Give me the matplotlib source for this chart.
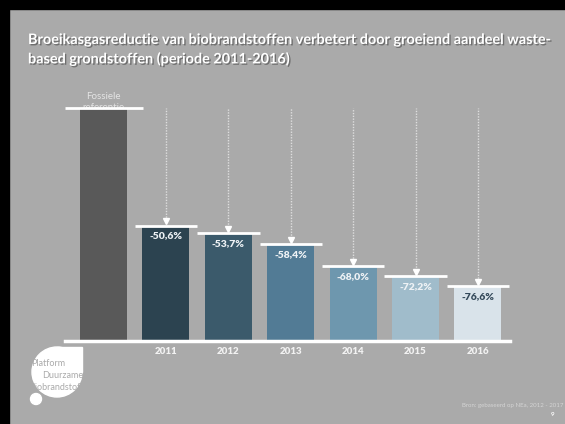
import numpy as np
import matplotlib.pyplot as plt
import matplotlib.patheffects as pe
from matplotlib.patches import Rectangle, Circle

plt.rcParams['font.family'] = ['Lato', 'DejaVu Sans']

# data
jaren = ['2011', '2012', '2013', '2014', '2015', '2016']
reductie = [50.6, 53.7, 58.4, 68.0, 72.2, 76.6]   # % reductie t.o.v. fossiel
fossiel = 100.0
kleuren = ['#595959', '#2c4350', '#3b5a6b', '#527b95', '#6e97ae', '#a0bccb', '#d9e3ea']
label_kleuren = ['#eef2f5'] * 5 + ['#34495a']

W, H = 565, 424
bg = '#aaaaaa'

fig = plt.figure(figsize=(W / 100, H / 100), dpi=100, facecolor=bg)

# slide decoration, pixel coordinates
deco = fig.add_axes([0, 0, 1, 1])
deco.set_xlim(0, W)
deco.set_ylim(H, 0)
deco.axis('off')
deco.add_patch(Rectangle((0, 0), W, 9, color='black'))
deco.add_patch(Rectangle((0, 0), 9, H, color='black'))

# logo
deco.add_patch(Circle((57, 372), 25, color='white'))
deco.add_patch(Rectangle((57, 347), 25, 25, color='white'))
deco.add_patch(Circle((36, 399), 5.5, color='white'))
for tx, ty, s in [(31, 363, 'Platform'), (42, 376, 'Duurzame'), (29, 388, 'Biobrandstoffen')]:
    t = deco.text(tx, ty, s, color=bg, fontsize=6.5, va='center', ha='left')
    t.set_clip_path(Rectangle((0, 0), 83, H, transform=deco.transData))

# main chart
base_px, top_px, L, R = 341, 98, 65, 510
ax = fig.add_axes([L / W, (H - base_px) / H, (R - L) / W, (base_px - top_px) / H])
ax.set_xlim(-0.617, 6.514)
ax.set_ylim(0, (base_px - top_px) / 2.33)
ax.patch.set_alpha(0)
for s in ax.spines.values():
    s.set_visible(False)
ax.set_yticks([])

x = np.arange(len(jaren) + 1)
hoogte = np.array([fossiel] + [fossiel - r for r in reductie])

ax.bar(x, hoogte, width=0.753, color=kleuren, zorder=2)

ax.text(0, 102.6, 'Fossiele\nreferentie', ha='center', va='center',
        color='#e4e4e4', fontsize=7, linespacing=1.25, zorder=1)
ax.hlines(fossiel, -0.625, 0.625, color='white', lw=2, zorder=3, clip_on=False)
ax.hlines(hoogte[1:], x[1:] - 0.5, x[1:] + 0.5, color='white', lw=2, zorder=3)
ax.axhline(0, color='white', lw=2.5, zorder=3, clip_on=False)

# dotted arrows from fossil reference
ax.vlines(x[1:], hoogte[1:] + 2.5, fossiel, colors='#dedede', linestyles=(0, (1, 1)), lw=1, zorder=1)
ax.plot(x[1:], hoogte[1:] + 1.9, 'v', color='white', ms=4.5, zorder=3)

for xi, h, r, c in zip(x[1:], hoogte[1:], reductie, label_kleuren):
    ax.text(xi, h - 4.3, ('-%.1f%%' % r).replace('.', ','), ha='center', va='center',
            color=c, fontsize=7.5, fontweight='heavy', zorder=4)

ax.set_xticks(x[1:], jaren, fontweight='heavy')
ax.tick_params(axis='x', length=0, pad=4.5, labelcolor='#f2f2f2', labelsize=7)

# title
fig.text(28 / W, 1 - 34 / H,
         'Broeikasgasreductie van biobrandstoffen verbetert door groeiend aandeel waste-\n'
         'based grondstoffen (periode 2011-2016)',
         color='white', fontweight='bold', fontsize=10.4, va='top', ha='left', linespacing=1.65,
         path_effects=[pe.withSimplePatchShadow(offset=(1, -1), shadow_rgbFace='black', alpha=0.35)])

fig.text(563 / W, 1 - 405 / H, 'Bron: gebaseerd op NEa, 2012 - 2017', ha='right', va='center',
         fontsize=4.4, color='#d4d4d4')
fig.text(553 / W, 1 - 415 / H, '9', ha='center', va='center', fontsize=4.5,
         fontweight='bold', color='white')

fig.savefig('out.png', dpi=100, facecolor=bg)
